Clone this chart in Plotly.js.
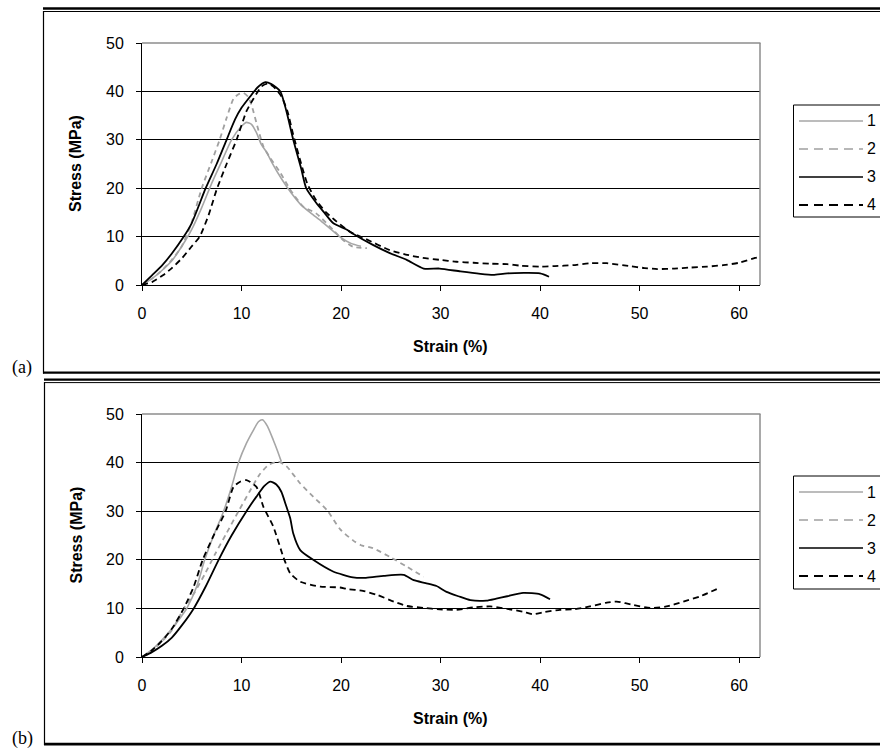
<!DOCTYPE html>
<html>
<head>
<meta charset="utf-8">
<script src="https://cdn.plot.ly/plotly-3.0.1.min.js"></script>
<style>html,body{margin:0;padding:0;background:#fff;}#chart{width:880px;height:749px;}</style>
</head>
<body>
<div id="chart"></div>
<script>
// ---------- data ----------
const seriesNames = ["1", "2", "3", "4"];
const xTicks = [0, 10, 20, 30, 40, 50, 60];
const yTicks = [0, 10, 20, 30, 40, 50];

// Panel (a)
const a1x = [0,1,2,3,4,5,6,7,8,9,10,10.5,11,11.5,12,12.5,13,14,15,16,17,18,19,20,21,22];
const a1y = [0,1.3,3,5,8,11.5,16,21,25.5,30,32.8,33.6,33.2,31.5,29,27.5,25.5,22,19,16.5,14.8,13.2,11.5,9.8,8.6,8];
const a2x = [0,1,2,3,4,5,6,7,7.8,8.5,9.2,9.7,10.2,10.7,11.1,11.5,12.2,12.8,13.9,14.9,16.2,17.5,19.2,20.2,21.2,22.6];
const a2y = [0,1.3,3,5.2,8,13,20,25.5,30,34.5,38.5,39.4,39.7,38.8,36.5,33.5,28.6,26.5,23.2,19.7,16.2,14.8,11.4,9.3,7.9,7.6];
const a3x = [0,1,2,3,4.2,5,6.4,7.5,8.5,9.35,10,10.85,11.6,12.4,13,13.9,14.5,15.2,16,16.5,17.5,18.3,19.2,20.6,21.2,23.2,24.9,26.6,28.3,29.9,32,34,35.3,36.7,40,40.9];
const a3y = [0,2,4,6.5,10,12.8,20,25,30,34.2,36.6,38.9,40.8,41.9,41.5,40,36,30,24,20,17,15,12.8,11.4,10.6,8.3,6.6,5.2,3.4,3.4,2.8,2.3,2.1,2.4,2.4,1.7];
const a4x = [0,1,2.1,3,4,5,5.8,6.7,7.5,8.5,9.5,10.5,11.2,12,12.6,13.2,14,14.6,15.2,16,16.6,17.5,18.5,19.5,20.9,22.5,24.9,26.5,28.2,29.9,31.6,33.3,35,36.7,38,40,41.5,43.3,45,46.7,49,50.5,51.8,53.5,55.1,56.8,58.4,60,61.6,62.1];
const a4y = [0,0.6,2,3.5,5.5,8,10,14.5,19.7,25,30,35.9,38.5,41,41.6,41,39,36,31,25,21,17.5,15,13.2,11,9.5,7.2,6.3,5.6,5.2,4.8,4.6,4.4,4.3,4.0,3.8,3.9,4.1,4.5,4.5,3.9,3.5,3.3,3.4,3.6,3.8,4.1,4.6,5.6,5.8];

// Panel (b)
const b1x = [0,1,2,3,4,4.5,5.5,6.3,7.2,8.2,9,9.7,10.5,11.2,11.7,12.1,12.6,13.2,13.6,14.0];
const b1y = [0,1.5,3.5,5.8,8.5,10,14.5,20,25,30,35,40,44,46.7,48.4,48.8,47.5,44.6,42.5,40.2];
const b2x = [0,1,2,3,4.2,5.2,6.3,7.3,8.5,9.7,10.8,11.8,12.7,13.7,14.5,15.9,17.2,18.6,19.9,21.2,22,23.2,24.9,26.6,28.3];
const b2y = [0,1.3,3.2,5.5,10,13,17,21,25.5,30,34,37.5,39.5,40.2,39.3,35.7,33,30.2,26.3,24,23,22.4,20.6,18.6,16.5];
const b3x = [0,1,2,3,4,5.2,6.4,7.7,9,10.5,11.5,12.3,12.9,13.5,14,14.5,14.9,15.2,15.9,17.2,19.2,21.2,22.5,24.3,26.3,27.3,28.5,29.6,30.6,31.8,33,34.6,35.6,36.7,38.3,40,41];
const b3y = [0,1,2.3,4,6.5,10,14.5,20,25,30,33,35.2,36.1,35.5,34,31,28.5,25.4,22,20,17.6,16.4,16.3,16.7,16.9,15.8,15.2,14.6,13.4,12.5,11.7,11.6,12,12.5,13.2,12.9,11.9];
const b4x = [0,1,2,3,4.2,5.2,6.1,7.2,8.4,9.2,9.9,10.5,11.5,12.2,13.2,14.2,14.9,15.9,17.9,19.9,20.6,22.2,23.6,25.3,26.6,28.3,29.9,31.6,33.3,35,36.7,38.3,39.3,40.3,42,43.3,45,46.7,47.7,49.4,51.1,52.7,54.4,56.1,58.1];
const b4y = [0,1.4,3.3,5.8,10,14.5,20,25,30,35,36.1,36.4,35,30.9,26.8,20.6,17.2,15.5,14.5,14.3,14,13.6,12.8,11.4,10.5,10.1,9.8,9.7,10.2,10.4,9.9,9.3,8.8,9.2,9.7,9.8,10.4,11.2,11.4,10.7,10.1,10.4,11.4,12.5,14.3];

// ---------- styles ----------
const styles = [
  {color: "#a6a6a6", width: 1.6, dash: "solid"},
  {color: "#a0a0a0", width: 1.8, dash: "5px,4px"},
  {color: "#000000", width: 1.8, dash: "solid"},
  {color: "#000000", width: 1.8, dash: "6px,4px"}
];
const legendDash = ["solid", "9px,6px", "solid", "9px,6px"];

const W = 880, H = 749;
const fx = v => v / W;
const fy = v => 1 - v / H;

function mk(x, y, i, ax) {
  return {
    x: x, y: y, type: "scatter", mode: "lines", name: seriesNames[i],
    xaxis: ax[0], yaxis: ax[1], showlegend: false, hoverinfo: "x+y",
    line: {color: styles[i].color, width: styles[i].width, dash: styles[i].dash, shape: "spline", smoothing: 0.6}
  };
}

const traces = [
  mk(a1x, a1y, 0, ["x", "y"]), mk(a2x, a2y, 1, ["x", "y"]),
  mk(a3x, a3y, 2, ["x", "y"]), mk(a4x, a4y, 3, ["x", "y"]),
  mk(b1x, b1y, 0, ["x2", "y2"]), mk(b2x, b2y, 1, ["x2", "y2"]),
  mk(b3x, b3y, 2, ["x2", "y2"]), mk(b4x, b4y, 3, ["x2", "y2"])
];

const plotL = 142, plotR = 760;
const panels = [
  {top: 43, bot: 285, legTop: 105, legBot: 217, legY: [121, 149, 177, 205], label: "(a)", labelY: 367},
  {top: 414, bot: 657, legTop: 476, legBot: 589, legY: [492, 520, 548, 576], label: "(b)", labelY: 738}
];

const tickFont = {family: "Liberation Sans, Arial, sans-serif", size: 16, color: "#000"};
function xAx(anchor, p) {
  return {
    domain: [fx(plotL), fx(plotR)], anchor: anchor, range: [0, 62.1],
    tickvals: xTicks, ticktext: xTicks.map(String),
    showline: true, linecolor: "#000", linewidth: 1, ticks: "outside", ticklen: 5, tickcolor: "#000",
    showgrid: false, zeroline: false, tickfont: tickFont, ticklabelstandoff: 9, fixedrange: true
  };
}
function yAx(anchor, p) {
  return {
    domain: [fy(p.bot), fy(p.top)], anchor: anchor, range: [0, 50],
    tickvals: yTicks, ticktext: yTicks.map(String),
    showline: true, linecolor: "#000", linewidth: 1, ticks: "outside", ticklen: 5, tickcolor: "#000",
    showgrid: true, gridcolor: "#000", gridwidth: 1, zeroline: false, tickfont: tickFont,
    ticklabelstandoff: 9, fixedrange: true
  };
}

const shapes = [];
const annotations = [];
const titleFont = {family: "Liberation Sans, Arial, sans-serif", size: 16, color: "#000", weight: "bold"};

function hline(x0, x1, y, w, color, layer) {
  shapes.push({type: "line", xref: "paper", yref: "paper", x0: fx(x0), x1: fx(x1), y0: fy(y), y1: fy(y),
    line: {color: color || "#000", width: w}, layer: layer || "above"});
}
function vline(x, y0, y1, w, color, layer) {
  shapes.push({type: "line", xref: "paper", yref: "paper", x0: fx(x), x1: fx(x), y0: fy(y0), y1: fy(y1),
    line: {color: color || "#000", width: w}, layer: layer || "above"});
}

// outer frames
hline(43, 880, 8.5, 2.6); hline(43, 880, 11.5, 1); vline(43.5, 11, 373.5, 1.2); hline(43, 880, 372.6, 2.2);
hline(44, 880, 379.6, 2.4); hline(44, 880, 382.6, 1); vline(44.5, 382, 745, 1.2); hline(44, 880, 744.2, 2.8);

panels.forEach((p, k) => {
  // plot-area border (gray top and right)
  hline(plotL, plotR + 0.5, p.top, 1.5, "#8c8c8c");
  vline(plotR, p.top, p.bot, 1.5, "#8c8c8c");
  // legend box
  shapes.push({type: "rect", xref: "paper", yref: "paper", x0: fx(793.5), x1: fx(900), y0: fy(p.legBot), y1: fy(p.legTop),
    line: {color: "#000", width: 1}, fillcolor: "#fff", layer: "above"});
  p.legY.forEach((ly, i) => {
    shapes.push({type: "line", xref: "paper", yref: "paper", x0: fx(799), x1: fx(863), y0: fy(ly), y1: fy(ly),
      line: {color: styles[i].color, width: i === 3 ? 2.2 : 1.5, dash: legendDash[i]}, layer: "above"});
    annotations.push({xref: "paper", yref: "paper", x: fx(865), y: fy(ly), xanchor: "left", yanchor: "middle",
      text: seriesNames[i], showarrow: false, font: tickFont});
  });
  // axis titles
  annotations.push({xref: "paper", yref: "paper", x: fx(76), y: fy((p.top + p.bot) / 2), textangle: -90,
    xanchor: "center", yanchor: "middle", text: "Stress (MPa)", showarrow: false, font: titleFont});
  annotations.push({xref: "paper", yref: "paper", x: fx((plotL + plotR) / 2), y: fy(p.bot + 61),
    xanchor: "center", yanchor: "middle", text: "Strain (%)", showarrow: false, font: titleFont});
  // panel label
  annotations.push({xref: "paper", yref: "paper", x: fx(22), y: fy(p.labelY), xanchor: "center", yanchor: "middle",
    text: p.label, showarrow: false, font: {family: "Liberation Serif, Times New Roman, serif", size: 18, color: "#000"}});
});

const layout = {
  width: W, height: H, margin: {l: 0, r: 0, t: 0, b: 0},
  paper_bgcolor: "#fff", plot_bgcolor: "#fff", showlegend: false,
  xaxis: xAx("y", panels[0]), yaxis: yAx("x", panels[0]),
  xaxis2: xAx("y2", panels[1]), yaxis2: yAx("x2", panels[1]),
  shapes: shapes, annotations: annotations
};

Plotly.newPlot("chart", traces, layout, {displayModeBar: false, staticPlot: true});
</script>
</body>
</html>
